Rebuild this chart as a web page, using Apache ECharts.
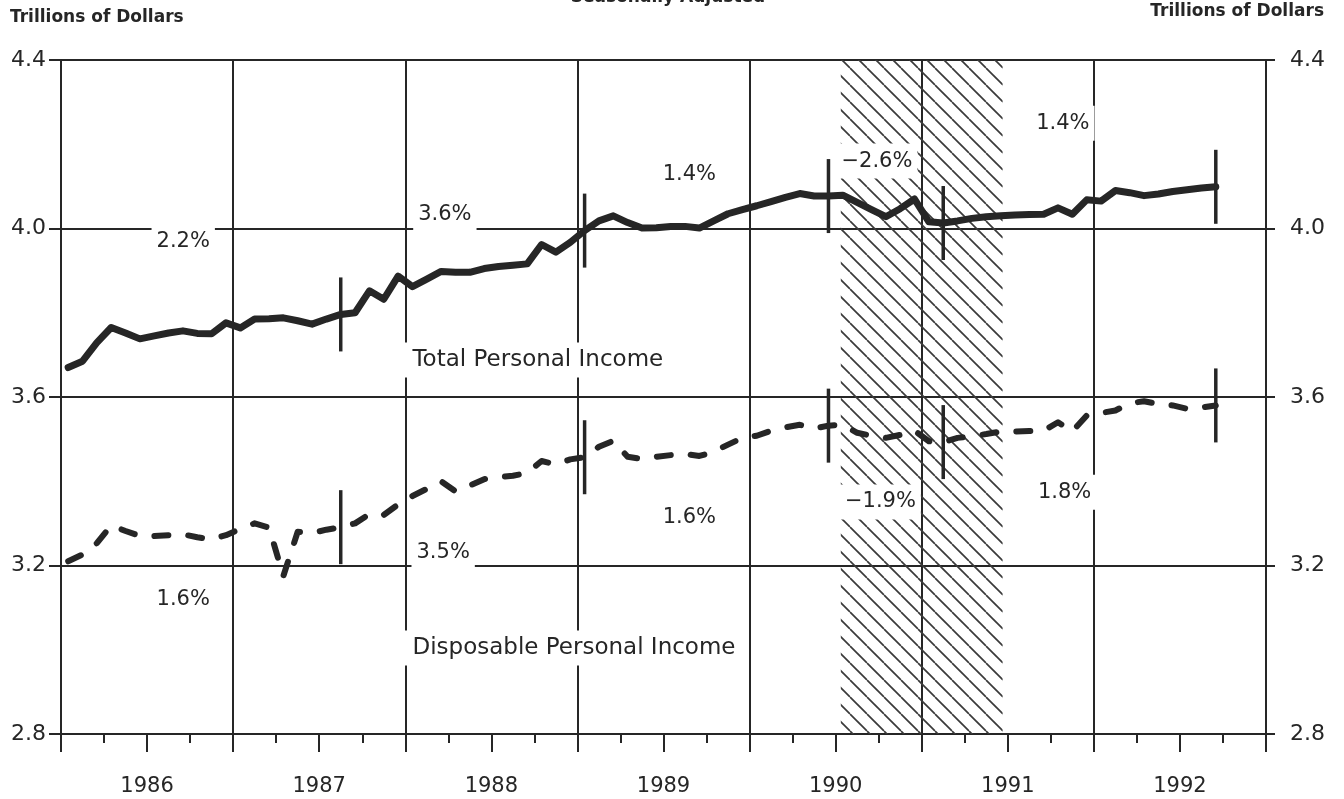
<!DOCTYPE html>
<html>
<head>
<meta charset="utf-8">
<script src="https://cdn.jsdelivr.net/npm/echarts@6/dist/echarts.min.js"></script>
<style>
  html, body { margin: 0; background: #fff; }
  #chart { width: 1344px; height: 799px; }
</style>
</head>
<body>
<div id="chart"></div>
<script>
// monthly values, Jan 1986 .. Sep 1992 (trillions of dollars)
const startYear = 1986;
const endYear = 1993;

const totalIncome = [
  3.670, 3.685, 3.729, 3.765, 3.752, 3.738, 3.745, 3.752, 3.757, 3.751,
  3.750, 3.776, 3.764, 3.785, 3.786, 3.788, 3.781, 3.773, 3.785, 3.796,
  3.800, 3.852, 3.832, 3.887, 3.862, 3.880, 3.898, 3.896, 3.896, 3.905,
  3.910, 3.913, 3.916, 3.962, 3.944, 3.967, 3.995, 4.018, 4.030, 4.014,
  4.001, 4.002, 4.005, 4.005, 4.001, 4.018, 4.035, 4.045, 4.054, 4.064,
  4.074, 4.083, 4.077, 4.077, 4.079, 4.062, 4.045, 4.028, 4.047, 4.070,
  4.016, 4.013, 4.018, 4.024, 4.028, 4.030, 4.032, 4.033, 4.034, 4.049,
  4.034, 4.068, 4.065, 4.090, 4.085, 4.078, 4.082, 4.088, 4.092, 4.096,
  4.099
];

const disposableIncome = [
  3.210, 3.226, 3.253, 3.295, 3.282, 3.270, 3.270, 3.272, 3.274, 3.267,
  3.262, 3.272, 3.287, 3.300, 3.290, 3.175, 3.280, 3.277, 3.285, 3.291,
  3.300, 3.322, 3.320, 3.345, 3.365, 3.382, 3.400, 3.376, 3.390, 3.405,
  3.410, 3.413, 3.420, 3.448, 3.440, 3.452, 3.457, 3.482, 3.496, 3.458,
  3.453, 3.458, 3.462, 3.465, 3.460, 3.470, 3.487, 3.503, 3.508, 3.520,
  3.528, 3.534, 3.525, 3.532, 3.534, 3.515, 3.508, 3.503, 3.510, 3.520,
  3.495, 3.493, 3.503, 3.507, 3.512, 3.518, 3.518, 3.519, 3.520, 3.540,
  3.518, 3.556, 3.562, 3.568, 3.585, 3.590, 3.583, 3.580, 3.572, 3.575,
  3.580
];

// months (index into the series) where the cycle bars sit
const cycleMonths = [19, 36, 53, 61, 80];

// shaded recession span, in years
const recession = [1990.53, 1991.47];

// annualized growth labels: [year, value, text]
const growthLabels = [
  [1986.71, 3.970, '2.2%'],
  [1988.23, 4.032, '3.6%'],
  [1989.65, 4.127, '1.4%'],
  [1990.74, 4.160, '\u22122.6%'],
  [1991.82, 4.250, '1.4%'],
  [1986.71, 3.118, '1.6%'],
  [1988.22, 3.230, '3.5%'],
  [1989.65, 3.313, '1.6%'],
  [1990.76, 3.351, '\u22121.9%'],
  [1991.83, 3.374, '1.8%']
];

// series names written inside the plot: [year, value, text]
const seriesNames = [
  [1988.77, 3.688, 'Total Personal Income'],
  [1988.98, 3.004, 'Disposable Personal Income']
];

const yMin = 2.8, yMax = 4.4, yStep = 0.4;

const ink = '#262626';
const font = 'DejaVu Sans';

const monthX = i => startYear + (i + 0.5) / 12;
const toPoints = values => values.map((v, i) => [monthX(i), v]);

function hatchPattern() {
  const size = 17;
  const c = document.createElement('canvas');
  c.width = size;
  c.height = size;
  const ctx = c.getContext('2d');
  ctx.strokeStyle = '#3a3a3a';
  ctx.lineWidth = 1.7;
  for (const off of [-size, 0, size]) {
    ctx.beginPath();
    ctx.moveTo(off, 0);
    ctx.lineTo(off + size, size);
    ctx.stroke();
  }
  return c;
}

function labelSeries(name, rows, fontSize, padding) {
  return {
    name: name,
    type: 'scatter',
    silent: true,
    z: 5,
    symbolSize: 1,
    itemStyle: { color: 'rgba(0,0,0,0)', opacity: 1 },
    label: {
      show: true,
      position: 'inside',
      formatter: '{b}',
      color: ink,
      opacity: 1,
      fontSize: fontSize,
      fontFamily: font,
      backgroundColor: '#fff',
      padding: padding
    },
    data: rows.map(([x, y, text]) => ({ value: [x, y], name: text }))
  };
}

const chart = echarts.init(document.getElementById('chart'));

const yAxisBase = {
  type: 'value',
  min: yMin,
  max: yMax,
  interval: yStep,
  axisLine: { show: true, lineStyle: { color: ink, width: 2 } },
  axisLabel: { color: ink, fontSize: 22, fontFamily: font, formatter: v => v.toFixed(1) }
};

chart.setOption({
  animation: false,
  backgroundColor: '#fff',
  grid: { left: 61, right: 78, top: 60, bottom: 65, containLabel: false, outerBoundsMode: 'none' },
  xAxis: [
    {
      type: 'value', min: startYear, max: endYear, interval: 1, position: 'bottom',
      axisLine: { show: true, onZero: false, lineStyle: { color: ink, width: 2 } },
      axisTick: { show: true, length: 18, lineStyle: { color: ink, width: 2 } },
      axisLabel: { show: false },
      splitLine: { show: true, lineStyle: { color: ink, width: 2 } }
    },
    {
      type: 'value', min: startYear, max: endYear, interval: 0.5, position: 'bottom',
      axisLine: { show: false, onZero: false },
      axisTick: { show: true, length: 18, lineStyle: { color: ink, width: 2 } },
      minorTick: { show: true, splitNumber: 2, length: 9, lineStyle: { color: ink, width: 2 } },
      splitLine: { show: false },
      axisLabel: {
        color: ink, fontSize: 21, fontFamily: font, margin: 42,
        formatter: v => (Math.abs(v % 1 - 0.5) < 1e-6 ? String(Math.floor(v)) : '')
      }
    }
  ],
  yAxis: [
    Object.assign({}, yAxisBase, {
      position: 'left',
      axisTick: { show: true, length: 12, lineStyle: { color: ink, width: 2 } },
      axisLabel: Object.assign({}, yAxisBase.axisLabel, { margin: 15 }),
      splitLine: { show: true, lineStyle: { color: ink, width: 2 } }
    }),
    Object.assign({}, yAxisBase, {
      position: 'right',
      axisTick: { show: true, length: 9, lineStyle: { color: ink, width: 2 } },
      axisLabel: Object.assign({}, yAxisBase.axisLabel, { margin: 24 }),
      splitLine: { show: false }
    })
  ],
  graphic: [
    { type: 'text', x: 10, y: 9, style: { text: 'Trillions of Dollars', font: 'bold 17px ' + font, fill: ink } },
    { type: 'text', x: 1324, y: 3, style: { text: 'Trillions of Dollars', font: 'bold 17px ' + font, fill: ink, align: 'right' } },
    { type: 'text', x: 668, y: 6, style: { text: 'Seasonally Adjusted', font: 'bold 17px ' + font, fill: ink, align: 'center', verticalAlign: 'bottom' } }
  ],
  series: [
    {
      name: 'Total Personal Income',
      type: 'line',
      data: toPoints(totalIncome),
      showSymbol: false,
      silent: true,
      z: 3,
      lineStyle: { color: ink, width: 7, join: 'round', cap: 'round' },
      markArea: {
        silent: true,
        itemStyle: { color: { image: hatchPattern(), repeat: 'repeat' } },
        data: [[{ xAxis: recession[0] }, { xAxis: recession[1] }]]
      }
    },
    {
      name: 'Disposable Personal Income',
      type: 'line',
      data: toPoints(disposableIncome),
      showSymbol: false,
      silent: true,
      z: 3,
      lineStyle: { color: ink, width: 6, type: [14, 20], cap: 'round', join: 'round' }
    },
    {
      name: 'cycle bars',
      type: 'scatter',
      silent: true,
      z: 4,
      symbol: 'rect',
      symbolSize: [3.5, 74],
      itemStyle: { color: ink, opacity: 1 },
      data: cycleMonths.flatMap(i => [[monthX(i), totalIncome[i]], [monthX(i), disposableIncome[i]]])
    },
    labelSeries('growth', growthLabels, 21, [7, 5]),
    labelSeries('names', seriesNames, 23, [6, 8])
  ]
});
</script>
</body>
</html>
